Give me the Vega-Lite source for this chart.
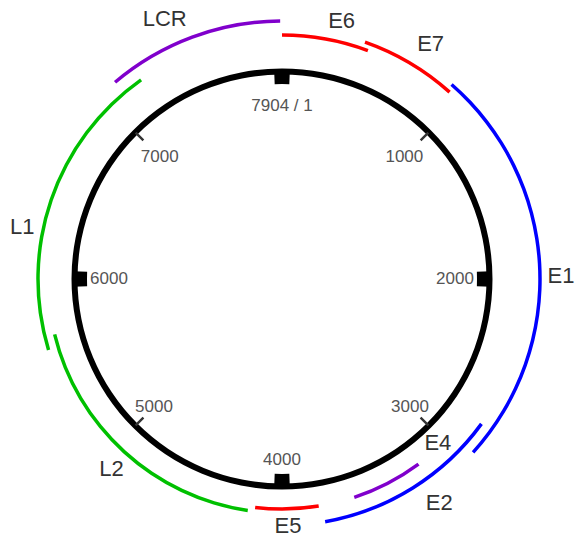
{
  "$schema": "https://vega.github.io/schema/vega-lite/v6.json",
  "width": 564,
  "height": 522,
  "autosize": "none",
  "padding": {"left": 0, "top": 18, "right": 18, "bottom": 0},
  "background": "white",
  "config": {"view": {"stroke": null}},
  "datasets": {
    "genes": [
      {"gene": "E6", "start": 0, "end": 458, "track": 3, "labelPos": 289},
      {"gene": "E7", "start": 429, "end": 931, "track": 5, "labelPos": 718},
      {"gene": "E1", "start": 913, "end": 2938, "track": 6, "labelPos": 1987},
      {"gene": "E2", "start": 2800, "end": 3776, "track": 4, "labelPos": 3220},
      {"gene": "E4", "start": 3191, "end": 3593, "track": 1, "labelPos": 3031},
      {"gene": "E5", "start": 3796, "end": 4149, "track": 1, "labelPos": 3969},
      {"gene": "L2", "start": 4187, "end": 5696, "track": 2, "labelPos": 4933},
      {"gene": "L1", "start": 5624, "end": 7216, "track": 3, "labelPos": 6251},
      {"gene": "LCR", "start": 7104, "end": 7991, "track": 6, "labelPos": 7460}
    ],
    "ticks": [
      {"pos": 0, "label": "7904 / 1", "kind": "major"},
      {"pos": 1000, "label": "1000", "kind": "minor"},
      {"pos": 2000, "label": "2000", "kind": "major"},
      {"pos": 3000, "label": "3000", "kind": "minor"},
      {"pos": 4000, "label": "4000", "kind": "major"},
      {"pos": 5000, "label": "5000", "kind": "minor"},
      {"pos": 6000, "label": "6000", "kind": "major"},
      {"pos": 7000, "label": "7000", "kind": "minor"}
    ]
  },
  "layer": [
    {
      "data": {"values": [{"from": 0, "to": 8000}]},
      "mark": {"type": "arc", "radius": 204.5, "radius2": 210.5, "color": "#000000"},
      "encoding": {
        "theta": {"field": "from", "type": "quantitative", "stack": null, "scale": {"domain": [0, 8000], "range": [0, 6.283185307179586]}},
        "theta2": {"field": "to"}
      }
    },
    {
      "data": {"name": "ticks"},
      "transform": [{"filter": "datum.kind === 'major'"}],
      "mark": {"type": "arc", "radius": 195, "radius2": 209, "thetaOffset": -0.0375, "theta2Offset": 0.0375, "color": "#000000"},
      "encoding": {
        "theta": {"field": "pos", "type": "quantitative", "stack": null, "scale": {"domain": [0, 8000], "range": [0, 6.283185307179586]}},
        "theta2": {"field": "pos"}
      }
    },
    {
      "data": {"name": "ticks"},
      "transform": [{"filter": "datum.kind === 'minor'"}],
      "mark": {"type": "arc", "radius": 196, "radius2": 207, "thetaOffset": -0.006, "theta2Offset": 0.006, "color": "#333333"},
      "encoding": {
        "theta": {"field": "pos", "type": "quantitative", "stack": null, "scale": {"domain": [0, 8000], "range": [0, 6.283185307179586]}},
        "theta2": {"field": "pos"}
      }
    },
    {
      "data": {"name": "ticks"},
      "transform": [{"filter": "datum.pos < 2500 || datum.pos > 5500"}],
      "mark": {"type": "text", "radius": 173, "font": "Liberation Sans", "fontSize": 17, "color": "#555555", "align": "center", "baseline": "middle"},
      "encoding": {
        "theta": {"field": "pos", "type": "quantitative", "stack": null, "scale": {"domain": [0, 8000], "range": [0, 6.283185307179586]}},
        "text": {"field": "label"}
      }
    },
    {
      "data": {"name": "ticks"},
      "transform": [{"filter": "datum.pos >= 2500 && datum.pos <= 5500"}],
      "mark": {"type": "text", "radius": 181, "font": "Liberation Sans", "fontSize": 17, "color": "#555555", "align": "center", "baseline": "middle"},
      "encoding": {
        "theta": {"field": "pos", "type": "quantitative", "stack": null, "scale": {"domain": [0, 8000], "range": [0, 6.283185307179586]}},
        "text": {"field": "label"}
      }
    },
    {
      "data": {"name": "genes"},
      "mark": {"type": "arc", "radiusOffset": 1.75, "radius2Offset": -1.75},
      "encoding": {
        "theta": {"field": "start", "type": "quantitative", "stack": null, "scale": {"domain": [0, 8000], "range": [0, 6.283185307179586]}},
        "theta2": {"field": "end"},
        "radius": {"field": "track", "type": "quantitative", "scale": {"type": "linear", "domain": [1, 2, 3, 4, 5, 6], "range": [230, 234, 244, 246.5, 251, 258], "zero": false, "nice": false}},
        "radius2": {"field": "track"},
        "color": {
          "field": "gene", "type": "nominal", "legend": null,
          "scale": {
            "domain": ["E6", "E7", "E1", "E2", "E4", "E5", "L2", "L1", "LCR"],
            "range": ["#ff0000", "#ff0000", "#0000ff", "#0000ff", "#8000cc", "#ff0000", "#00c000", "#00c000", "#8000cc"]
          }
        }
      }
    },
    {
      "data": {"name": "genes"},
      "transform": [{"filter": "indexof(['E6', 'E1', 'L1', 'L2'], datum.gene) >= 0"}],
      "mark": {"type": "text", "radiusOffset": 21, "font": "Liberation Sans", "fontSize": 22, "color": "#333333", "align": "center", "baseline": "middle"},
      "encoding": {
        "theta": {"field": "labelPos", "type": "quantitative", "stack": null, "scale": {"domain": [0, 8000], "range": [0, 6.283185307179586]}},
        "radius": {"field": "track", "type": "quantitative"},
        "text": {"field": "gene"}
      }
    },
    {
      "data": {"name": "genes"},
      "transform": [{"filter": "indexof(['E7', 'LCR', 'E2'], datum.gene) >= 0"}],
      "mark": {"type": "text", "radiusOffset": 27, "font": "Liberation Sans", "fontSize": 22, "color": "#333333", "align": "center", "baseline": "middle"},
      "encoding": {
        "theta": {"field": "labelPos", "type": "quantitative", "stack": null, "scale": {"domain": [0, 8000], "range": [0, 6.283185307179586]}},
        "radius": {"field": "track", "type": "quantitative"},
        "text": {"field": "gene"}
      }
    },
    {
      "data": {"name": "genes"},
      "transform": [{"filter": "datum.gene === 'E5'"}],
      "mark": {"type": "text", "radiusOffset": 17, "font": "Liberation Sans", "fontSize": 22, "color": "#333333", "align": "center", "baseline": "middle"},
      "encoding": {
        "theta": {"field": "labelPos", "type": "quantitative", "stack": null, "scale": {"domain": [0, 8000], "range": [0, 6.283185307179586]}},
        "radius": {"field": "track", "type": "quantitative"},
        "text": {"field": "gene"}
      }
    },
    {
      "data": {"name": "genes"},
      "transform": [{"filter": "datum.gene === 'E4'"}],
      "mark": {"type": "text", "radiusOffset": -4, "font": "Liberation Sans", "fontSize": 22, "color": "#333333", "align": "center", "baseline": "middle"},
      "encoding": {
        "theta": {"field": "labelPos", "type": "quantitative", "stack": null, "scale": {"domain": [0, 8000], "range": [0, 6.283185307179586]}},
        "radius": {"field": "track", "type": "quantitative"},
        "text": {"field": "gene"}
      }
    }
  ]
}
